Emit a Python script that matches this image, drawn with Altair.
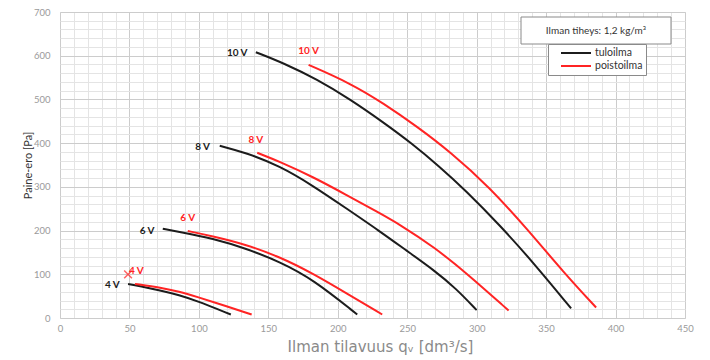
import altair as alt
import pandas as pd

# ---- data ----
tulo_10_q = [141, 161, 185, 209, 233, 253, 273, 292, 317, 341, 368]
tulo_10_p = [608, 583, 546, 500, 447, 400, 347, 292, 211, 126, 22]
poisto_10_q = [179, 209, 233, 257, 281, 309, 336, 363, 386]
poisto_10_p = [579, 537, 491, 438, 380, 300, 205, 103, 24]

tulo_8_q = [115, 134, 158, 182, 206, 230, 250, 269, 285, 300]
tulo_8_p = [394, 378, 348, 303, 251, 199, 153, 110, 68, 18]
poisto_8_q = [142, 158, 182, 206, 230, 245, 269, 293, 323]
poisto_8_p = [378, 358, 323, 282, 240, 213, 163, 102, 17]

tulo_6_q = [74, 86, 110, 134, 158, 182, 214]
tulo_6_p = [204, 197, 182, 159, 129, 89, 8]
poisto_6_q = [92, 110, 134, 158, 182, 206, 232]
poisto_6_p = [199, 187, 168, 140, 102, 57, 8]

tulo_4_q = [49, 73, 86, 97, 123]
tulo_4_p = [78, 63, 52, 41, 8]
poisto_4_q = [54, 73, 86, 97, 121, 138]
poisto_4_p = [78, 69, 60, 50, 26, 8]

series_names = ["tuloilma", "poistoilma"]
series_colors = ["#1c1c1c", "#ff2424"]

label_text = ["10 V", "10 V", "8 V", "8 V", "6 V", "6 V", "4 V", "4 V"]
label_series = ["tuloilma", "poistoilma"] * 4
label_q = [135, 179, 108, 141, 68, 92, 43, 55]
label_p = [607, 611, 391, 407, 199, 229, 75, 108]

marker_q = [49]
marker_p = [100]

density_text = "Ilman tiheys: 1,2 kg/m³"

# ---- build tables ----
curves = [
    ("10 V", "tuloilma", tulo_10_q, tulo_10_p),
    ("10 V", "poistoilma", poisto_10_q, poisto_10_p),
    ("8 V", "tuloilma", tulo_8_q, tulo_8_p),
    ("8 V", "poistoilma", poisto_8_q, poisto_8_p),
    ("6 V", "tuloilma", tulo_6_q, tulo_6_p),
    ("6 V", "poistoilma", poisto_6_q, poisto_6_p),
    ("4 V", "tuloilma", tulo_4_q, tulo_4_p),
    ("4 V", "poistoilma", poisto_4_q, poisto_4_p),
]
rows = []
for spd, ser, qs, ps in curves:
    for q, p in zip(qs, ps):
        rows.append({"speed": spd, "series": ser, "curve": spd + ser, "q": q, "p": p})
df = pd.DataFrame(rows)

labels = pd.DataFrame({"text": label_text, "series": label_series, "q": label_q, "p": label_p})
labels["align"] = ["right" if s == "tuloilma" else "center" for s in label_series]
marker = pd.DataFrame({"q": marker_q, "p": marker_p})

FONT = "Lato"

x_axis = alt.Axis(values=list(range(0, 451, 10)),
                  labelExpr="datum.value % 50 === 0 ? datum.label : ''",
                  labelFlush=False, labelOverlap=False,
                  domain=False, ticks=False, labelPadding=5,
                  labelColor="#9a9a9a", labelFontSize=9.5, labelFont=FONT,
                  gridColor={"condition": {"test": "datum.value % 50 === 0", "value": "#cccccc"},
                             "value": "#e4e4e4"},
                  title="Ilman tilavuus qᵥ [dm³/s]", titleFont="DejaVu Sans",
                  titleFontSize=15, titleFontWeight="normal", titleColor="#8a8a8a",
                  titleX=320, titleY=28, titleBaseline="middle")
y_axis = alt.Axis(values=list(range(0, 701, 20)),
                  labelExpr="datum.value % 100 === 0 ? datum.label : ''",
                  labelFlush=False, labelOverlap=False,
                  domain=False, ticks=False, labelPadding=10,
                  labelColor="#9a9a9a", labelFontSize=9.5, labelFont=FONT,
                  gridColor={"condition": {"test": "datum.value % 100 === 0", "value": "#cccccc"},
                             "value": "#e4e4e4"},
                  title="Paine-ero [Pa]", titleFont=FONT, titleFontSize=11,
                  titleFontWeight="normal", titleColor="#333333",
                  titleX=-32, titleY=153, titleBaseline="middle", titleAlign="center")

x_scale = alt.Scale(domain=[0, 450], nice=False, zero=False)
y_scale = alt.Scale(domain=[0, 700], nice=False, zero=False)


def X():
    return alt.X("q:Q", scale=x_scale, axis=x_axis)


def Y():
    return alt.Y("p:Q", scale=y_scale, axis=y_axis)


color_scale = alt.Scale(domain=series_names, range=series_colors)

lines = alt.Chart(df).mark_line(strokeWidth=2, interpolate="basis").encode(
    x=X(), y=Y(),
    color=alt.Color("series:N", scale=color_scale,
                    legend=alt.Legend(orient="none", legendX=488, legendY=32, title=None,
                                      strokeColor="#8a8a8a", fillColor="white",
                                      padding=3, symbolType="M-3,0H3", symbolSize=100,
                                      symbolStrokeWidth=2, symbolOffset=19,
                                      labelOffset=13, labelFont=FONT, labelFontSize=10.5,
                                      labelColor="#333333", rowPadding=1,
                                      symbolFillColor="transparent")),
    detail="curve:N",
)

lab_r = alt.Chart(labels[labels["align"] == "right"]).mark_text(
    align="right", baseline="middle", fontWeight="bold", fontSize=10, font=FONT).encode(
    x=X(), y=Y(), text="text:N",
    color=alt.Color("series:N", scale=color_scale, legend=None))
lab_c = alt.Chart(labels[labels["align"] == "center"]).mark_text(
    align="center", baseline="middle", fontWeight="bold", fontSize=10, font=FONT).encode(
    x=X(), y=Y(), text="text:N",
    color=alt.Color("series:N", scale=color_scale, legend=None))

cross = alt.Chart(marker).mark_point(shape="M-1,-1L1,1M-1,1L1,-1", size=60,
                                     color="#ff2424", strokeWidth=1.5, filled=False).encode(
    x=X(), y=Y())

box_df = pd.DataFrame({"t": [density_text]})
box = alt.Chart(box_df).mark_rect(fill="white", stroke="#8a8a8a", strokeWidth=1).encode(
    x=alt.value(461), x2=alt.value(611), y=alt.value(5), y2=alt.value(32))
box_text = alt.Chart(box_df).mark_text(font=FONT, fontSize=10, color="#333333",
                                       align="center", baseline="middle").encode(
    x=alt.value(536), y=alt.value(19), text="t:N")

chart = alt.layer(lines, lab_r, lab_c, cross, box, box_text).properties(
    width=625, height=306,
    autosize=alt.AutoSizeParams(type="none"),
    padding={"left": 52, "top": 4, "right": 12, "bottom": 42},
).configure_view(stroke=None).configure(background="white")

chart.save("out.html", embed_options={"renderer": "svg", "actions": False})
